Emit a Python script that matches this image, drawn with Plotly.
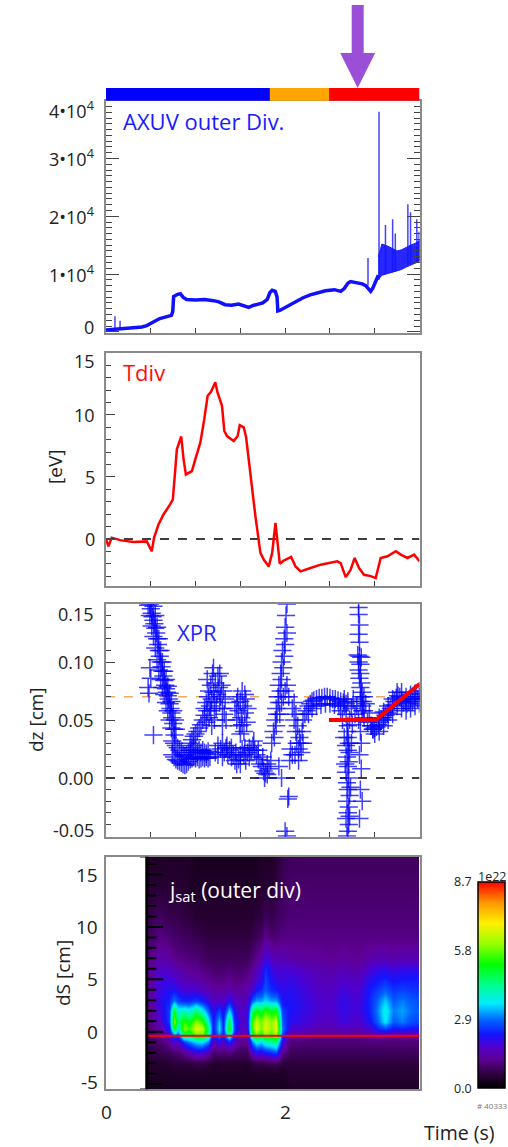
import plotly.graph_objects as go

# ---------------- data ----------------
# Panel 1 : AXUV outer divertor
axuv_t = [0.0, 0.1, 0.2, 0.3, 0.40, 0.455, 0.50, 0.55, 0.60, 0.65, 0.70, 0.73, 0.745, 0.755, 0.80, 0.83,
          0.86, 0.9, 1.0, 1.1, 1.2, 1.26, 1.33, 1.40, 1.48, 1.55, 1.593, 1.65, 1.705, 1.75, 1.80, 1.83,
          1.855, 1.89, 1.91, 1.918, 1.94, 2.0, 2.1, 2.2, 2.28, 2.35, 2.45, 2.55, 2.62, 2.66, 2.70, 2.73,
          2.8, 2.86, 2.90, 2.955, 2.98, 3.011, 3.04]
axuv_v = [300, 400, 500, 650, 850, 1080, 1500, 2000, 2300, 2500, 2700, 2850, 3500, 6100, 6500, 6600,
          6000, 5600, 5500, 5600, 5400, 5200, 4700, 4600, 4800, 4400, 4230, 4600, 4800, 5000, 5600, 6800,
          7200, 7000, 6000, 3600, 3700, 4200, 5200, 5900, 6400, 6700, 7100, 7300, 7000, 7500, 8400, 8700,
          8500, 8300, 8000, 7000, 7600, 8970, 9800]
axuv_band_t = [3.04, 3.08, 3.15, 3.2, 3.25, 3.3, 3.35, 3.4, 3.45, 3.5]
axuv_band_lo = [9000, 9800, 10100, 10300, 10500, 10800, 11200, 11500, 11800, 12200]
axuv_band_hi = [13000, 15200, 14800, 14400, 14000, 14200, 14600, 15000, 15300, 15800]
axuv_spike_t = [0.10, 0.157, 2.925, 3.048, 3.12, 3.2, 3.23, 3.37, 3.40, 3.47, 3.495]
axuv_spike_top = [2700, 1900, 12800, 38100, 18500, 19500, 17000, 22100, 20700, 19500, 17300]
axuv_spike_base = [400, 450, 8000, 9000, 10000, 10300, 10400, 11500, 11700, 12000, 12200]
axuv_ticks = [0, 10000, 20000, 30000, 40000]
axuv_ticktext = ["0", "1•10<sup>4</sup>", "2•10<sup>4</sup>", "3•10<sup>4</sup>", "4•10<sup>4</sup>"]

phase_edges = [0.0, 1.83, 2.49, 3.5]
phase_colors = ["#0000ff", "#ffa500", "#ff0000"]
arrow_t = 2.81

# Panel 2 : Tdiv
tdiv_t = [0.0, 0.027, 0.064, 0.157, 0.306, 0.455, 0.511, 0.537, 0.586, 0.642, 0.716, 0.746, 0.772, 0.791,
          0.84, 0.866, 0.892, 0.959, 0.997, 1.053, 1.097, 1.135, 1.172, 1.22, 1.246, 1.295, 1.321, 1.351,
          1.426, 1.47, 1.493, 1.538, 1.564, 1.612, 1.668, 1.724, 1.761, 1.817, 1.855, 1.892, 1.918, 1.94,
          1.985, 2.067, 2.116, 2.172, 2.284, 2.396, 2.582, 2.62, 2.676, 2.73, 2.776, 2.825, 2.881, 2.955,
          3.011, 3.067, 3.142, 3.235, 3.291, 3.366, 3.44, 3.5]
tdiv_v = [0.0, -0.6, 0.1, -0.1, -0.25, -0.2, -1.0, 0.1, 1.16, 1.97, 2.78, 3.18, 5.47, 7.23,
          8.26, 6.42, 5.2, 5.47, 6.42, 7.77, 9.66, 11.55, 11.87, 12.63, 11.8, 10.74, 8.71, 8.3,
          7.9, 8.3, 9.17, 9.0, 8.2, 5.07, 1.83, -1.13, -1.67, -2.22, -1.13, 1.3, -0.3, -2.0,
          -1.75, -1.46, -2.22, -2.62, -2.35, -2.08, -1.81, -1.95, -3.08, -2.5, -1.54, -2.35, -2.9, -3.0,
          -3.16, -1.54, -1.4, -1.0, -1.27, -1.54, -1.27, -1.81]
tdiv_ticks = [0, 5, 10, 15]

# Panel 3 : XPR position (t, dz)
xpr_drop = [(0.49, 0.150), (0.50, 0.146), (0.51, 0.142), (0.52, 0.139), (0.53, 0.136), (0.54, 0.133),
            (0.55, 0.129), (0.56, 0.125), (0.57, 0.120), (0.58, 0.115), (0.59, 0.110), (0.60, 0.105),
            (0.61, 0.100), (0.62, 0.096), (0.63, 0.092), (0.64, 0.088), (0.65, 0.084), (0.66, 0.080),
            (0.67, 0.077), (0.68, 0.074), (0.69, 0.071), (0.70, 0.068), (0.71, 0.064), (0.72, 0.060),
            (0.73, 0.056), (0.74, 0.052), (0.75, 0.047), (0.76, 0.042), (0.765, 0.037),
            (0.47, 0.149), (0.49, 0.140), (0.51, 0.131), (0.53, 0.122), (0.55, 0.112), (0.57, 0.102),
            (0.59, 0.093), (0.61, 0.085), (0.63, 0.078), (0.65, 0.072), (0.67, 0.065), (0.69, 0.058),
            (0.71, 0.050), (0.73, 0.043),
            (0.53, 0.148), (0.55, 0.140), (0.57, 0.130), (0.59, 0.120), (0.61, 0.110), (0.63, 0.100),
            (0.65, 0.092), (0.67, 0.085), (0.69, 0.079), (0.71, 0.073), (0.73, 0.066), (0.75, 0.058),
            (0.77, 0.050), (0.78, 0.042),
            (0.47, 0.078), (0.48, 0.073), (0.49, 0.095), (0.50, 0.086), (0.53, 0.037)]
xpr_low1 = [(0.74, 0.020), (0.76, 0.018), (0.78, 0.016), (0.80, 0.015), (0.82, 0.014), (0.84, 0.013),
            (0.86, 0.012), (0.88, 0.011), (0.90, 0.012), (0.92, 0.014), (0.94, 0.016), (0.96, 0.017),
            (0.98, 0.018), (1.00, 0.017), (1.02, 0.018), (1.04, 0.016), (1.06, 0.017), (1.08, 0.018),
            (1.10, 0.017), (1.12, 0.018), (1.14, 0.017), (1.16, 0.018),
            (0.74, 0.032), (0.76, 0.030), (0.78, 0.028), (0.80, 0.026), (0.82, 0.024), (0.84, 0.022),
            (0.86, 0.020), (0.88, 0.019), (0.90, 0.020), (0.92, 0.022), (0.94, 0.024), (0.96, 0.026),
            (0.98, 0.028), (1.00, 0.024), (1.02, 0.022), (1.04, 0.024), (1.06, 0.022), (1.08, 0.024),
            (1.10, 0.022), (1.12, 0.021), (1.14, 0.023),
            (0.94, 0.030), (0.96, 0.033), (0.98, 0.036), (1.00, 0.038), (1.02, 0.040), (1.04, 0.043),
            (1.06, 0.046), (1.08, 0.050), (1.10, 0.054)]
xpr_bump1 = [(1.10, 0.060), (1.12, 0.065), (1.13, 0.058), (1.14, 0.070), (1.15, 0.075), (1.16, 0.062),
             (1.17, 0.080), (1.18, 0.068), (1.19, 0.090), (1.20, 0.074), (1.21, 0.066), (1.22, 0.082),
             (1.23, 0.060), (1.24, 0.072), (1.25, 0.088), (1.26, 0.078), (1.27, 0.065), (1.28, 0.070),
             (1.29, 0.080), (1.30, 0.060), (1.31, 0.075), (1.32, 0.055), (1.33, 0.068), (1.34, 0.050),
             (1.12, 0.048), (1.15, 0.052), (1.18, 0.045), (1.21, 0.050), (1.13, 0.085), (1.20, 0.095),
             (1.27, 0.090), (1.30, 0.045), (1.17, 0.058)]
xpr_low2 = [(1.22, 0.022), (1.25, 0.020), (1.28, 0.025), (1.30, 0.018), (1.32, 0.022), (1.34, 0.026),
            (1.36, 0.020), (1.38, 0.024), (1.40, 0.018), (1.42, 0.020), (1.44, 0.015), (1.46, 0.012),
            (1.48, 0.016), (1.50, 0.020), (1.52, 0.025), (1.54, 0.020), (1.56, 0.015), (1.58, 0.022),
            (1.60, 0.026), (1.62, 0.024), (1.64, 0.028), (1.66, 0.024), (1.68, 0.020), (1.70, 0.016),
            (1.72, 0.012), (1.74, 0.010), (1.76, 0.006), (1.78, 0.004), (1.80, 0.003), (1.82, 0.008),
            (1.84, 0.015), (1.25, 0.028), (1.30, 0.030), (1.35, 0.028), (1.40, 0.026), (1.45, 0.022),
            (1.50, 0.012), (1.55, 0.026), (1.60, 0.018), (1.65, 0.032), (1.70, 0.024), (1.75, 0.018),
            (1.80, 0.012), (1.77, 0.000)]
xpr_bump2 = [(1.44, 0.060), (1.46, 0.050), (1.47, 0.070), (1.48, 0.058), (1.49, 0.045), (1.50, 0.066),
             (1.51, 0.052), (1.52, 0.075), (1.53, 0.062), (1.54, 0.040), (1.55, 0.056), (1.56, 0.068),
             (1.57, 0.048), (1.58, 0.060), (1.50, 0.038), (1.46, 0.065), (1.55, 0.072), (1.52, 0.046)]
xpr_rise = [(1.85, 0.030), (1.87, 0.040), (1.89, 0.050), (1.90, 0.060), (1.92, 0.070), (1.93, 0.080),
            (1.95, 0.090), (1.96, 0.100), (1.97, 0.110), (1.99, 0.120), (2.00, 0.130), (2.01, 0.140),
            (2.02, 0.150), (1.88, 0.035), (1.90, 0.045), (1.91, 0.055), (1.93, 0.065), (1.95, 0.075),
            (1.96, 0.085), (1.98, 0.095), (1.99, 0.105), (2.00, 0.115), (2.02, 0.125),
            (1.94, 0.055), (1.96, 0.065), (1.98, 0.070), (2.00, 0.075), (2.02, 0.080), (2.04, 0.070),
            (2.03, -0.018), (2.00, -0.046), (2.02, -0.050), (1.96, 0.000), (1.93, 0.010), (2.05, 0.015),
            (2.08, 0.020), (2.06, 0.025), (2.04, -0.016)]
xpr_plateau = [(2.08, 0.060), (2.10, 0.050), (2.12, 0.040), (2.13, 0.030), (2.15, 0.025), (2.17, 0.030),
               (2.19, 0.040), (2.20, 0.050), (2.22, 0.055), (2.10, 0.065), (2.12, 0.055), (2.14, 0.045),
               (2.16, 0.035), (2.18, 0.022), (2.15, 0.015), (2.20, 0.030), (2.11, 0.020),
               (2.24, 0.058), (2.26, 0.062), (2.28, 0.064), (2.30, 0.066), (2.32, 0.067), (2.35, 0.068),
               (2.38, 0.069), (2.41, 0.069), (2.44, 0.070), (2.47, 0.070), (2.50, 0.069), (2.53, 0.068),
               (2.56, 0.068), (2.59, 0.067), (2.62, 0.066), (2.65, 0.065), (2.68, 0.064),
               (2.26, 0.055), (2.30, 0.060), (2.35, 0.062), (2.40, 0.063), (2.45, 0.064), (2.50, 0.064),
               (2.55, 0.063), (2.60, 0.062)]
xpr_scatter = [(2.62, 0.058), (2.64, 0.050), (2.66, 0.062), (2.68, 0.055), (2.70, 0.066), (2.72, 0.050),
               (2.74, 0.060), (2.76, 0.068), (2.78, 0.055), (2.80, 0.062), (2.82, 0.050), (2.84, 0.066),
               (2.86, 0.058), (2.88, 0.052), (2.90, 0.064), (2.92, 0.048), (2.94, 0.056), (2.96, 0.045),
               (2.98, 0.042), (2.70, 0.045), (2.75, 0.046), (2.66, 0.068), (2.88, 0.070),
               (2.69, 0.040), (2.70, 0.035), (2.71, 0.030), (2.68, 0.028), (2.70, 0.024), (2.72, 0.022),
               (2.69, 0.018), (2.71, 0.014), (2.70, 0.010), (2.68, 0.005), (2.71, 0.000), (2.69, -0.004),
               (2.70, -0.010), (2.72, -0.015), (2.69, -0.020), (2.71, -0.025), (2.70, -0.030),
               (2.68, -0.035), (2.71, -0.040), (2.70, -0.046), (2.69, -0.050), (2.73, -0.008),
               (2.67, 0.012), (2.74, 0.030), (2.66, 0.035), (2.72, -0.033)]
xpr_spike = [(2.82, 0.147), (2.82, 0.141), (2.83, 0.132), (2.82, 0.124), (2.83, 0.117), (2.81, 0.106),
             (2.83, 0.105), (2.85, 0.104), (2.82, 0.100), (2.84, 0.098), (2.82, 0.093), (2.84, 0.090),
             (2.83, 0.086), (2.85, 0.082), (2.84, 0.078), (2.86, 0.074), (2.85, 0.070), (2.87, 0.066),
             (2.86, 0.062), (2.88, 0.058), (2.84, 0.040), (2.85, 0.030), (2.83, 0.020), (2.85, 0.008),
             (2.84, -0.010), (2.86, -0.020), (2.83, -0.035)]
xpr_late = [(2.96, 0.045), (2.98, 0.042), (3.00, 0.043), (3.02, 0.044), (3.04, 0.046), (3.06, 0.048),
            (3.08, 0.050), (3.10, 0.052), (3.12, 0.054), (3.14, 0.056), (3.16, 0.058), (3.18, 0.060),
            (3.20, 0.063), (3.22, 0.066), (3.24, 0.069), (3.26, 0.071), (3.28, 0.070), (3.30, 0.067),
            (3.32, 0.065), (3.34, 0.066), (3.36, 0.064), (3.38, 0.066), (3.40, 0.068), (3.42, 0.066),
            (3.44, 0.068), (3.46, 0.070), (3.48, 0.068), (3.50, 0.070),
            (3.00, 0.038), (3.05, 0.040), (3.10, 0.045), (3.15, 0.050), (3.20, 0.055), (3.25, 0.062),
            (3.30, 0.060), (3.35, 0.058), (3.40, 0.060), (3.45, 0.062), (3.50, 0.064),
            (3.05, 0.052), (3.10, 0.057), (3.15, 0.062), (3.20, 0.068), (3.25, 0.074), (3.30, 0.074),
            (3.35, 0.070), (3.40, 0.072), (3.45, 0.073), (3.50, 0.075)]
xpr_fit_t = [2.49, 3.01, 3.5]
xpr_fit_dz = [0.050, 0.050, 0.081]
xpr_ref_dz = 0.07
xpr_ticks = [-0.05, 0.0, 0.05, 0.10, 0.15]
xpr_ticktext = ["-0.05", "0.00", "0.05", "0.10", "0.15"]

# Panel 4 : jsat (outer div), 1e22 units
jsat_t = [0.42, 0.50, 0.55, 0.62, 0.70, 0.76, 0.80, 0.87, 0.93, 1.0, 1.07, 1.14, 1.2, 1.26, 1.31, 1.37, 1.43,
          1.5, 1.57, 1.63, 1.68, 1.73, 1.78, 1.84, 1.9, 1.96, 2.05, 2.2, 2.35, 2.5, 2.65, 2.8, 2.95, 3.05,
          3.12, 3.2, 3.3, 3.4, 3.5]
jsat_ds = [-5.5, -4, -3, -2, -1, -0.4, 0.3, 1, 2, 3, 4, 5, 6, 7, 9, 11, 14, 16.7]
jsat_cols = [
    [0.3, 0.4, 0.5, 0.6, 0.8, 0.9, 1.0, 1.1, 1.2, 1.3, 1.3, 1.3, 1.2, 1.1, 0.9, 0.7, 0.5, 0.4],
    [0.3, 0.4, 0.5, 0.6, 0.8, 0.9, 1.0, 1.1, 1.2, 1.3, 1.3, 1.3, 1.2, 1.1, 0.9, 0.7, 0.5, 0.4],
    [0.3, 0.4, 0.5, 0.7, 0.9, 1.0, 1.2, 1.4, 1.6, 1.7, 1.7, 1.6, 1.5, 1.3, 1.0, 0.8, 0.5, 0.4],
    [0.3, 0.4, 0.5, 0.7, 1.0, 1.2, 1.5, 1.8, 2.0, 2.1, 2.0, 1.9, 1.7, 1.4, 1.1, 0.8, 0.5, 0.4],
    [0.3, 0.4, 0.5, 0.8, 1.3, 1.7, 2.2, 2.6, 2.6, 2.4, 2.1, 1.9, 1.6, 1.3, 1.0, 0.7, 0.5, 0.4],
    [0.3, 0.4, 0.6, 0.9, 1.8, 2.8, 5.0, 6.0, 5.0, 3.0, 2.2, 1.8, 1.5, 1.2, 0.9, 0.7, 0.5, 0.4],
    [0.3, 0.4, 0.6, 0.9, 1.6, 2.5, 3.8, 4.5, 3.8, 2.6, 2.0, 1.7, 1.4, 1.1, 0.9, 0.7, 0.5, 0.4],
    [0.3, 0.4, 0.6, 1.2, 2.6, 4.5, 6.0, 5.5, 4.0, 2.4, 1.8, 1.5, 1.3, 1.1, 0.8, 0.6, 0.5, 0.4],
    [0.3, 0.4, 0.6, 1.5, 3.0, 4.5, 5.5, 5.0, 3.8, 2.4, 1.8, 1.5, 1.2, 1.0, 0.8, 0.6, 0.4, 0.4],
    [0.3, 0.4, 0.7, 1.8, 3.5, 5.5, 6.8, 6.0, 4.5, 2.6, 1.8, 1.4, 1.2, 1.0, 0.7, 0.5, 0.4, 0.3],
    [0.3, 0.4, 0.7, 1.8, 3.6, 5.5, 6.5, 5.5, 3.8, 2.3, 1.6, 1.3, 1.1, 0.9, 0.7, 0.5, 0.4, 0.3],
    [0.3, 0.4, 0.6, 1.5, 3.0, 4.2, 4.5, 3.8, 2.8, 2.0, 1.5, 1.2, 1.0, 0.8, 0.6, 0.5, 0.4, 0.3],
    [0.3, 0.4, 0.5, 0.9, 1.5, 2.0, 2.2, 2.2, 2.0, 1.6, 1.3, 1.1, 0.9, 0.8, 0.6, 0.5, 0.4, 0.3],
    [0.3, 0.4, 0.5, 1.0, 2.0, 3.0, 3.6, 3.4, 2.6, 1.8, 1.3, 1.1, 0.9, 0.8, 0.6, 0.5, 0.4, 0.3],
    [0.3, 0.4, 0.5, 0.9, 1.6, 2.2, 2.4, 2.3, 2.0, 1.6, 1.3, 1.1, 0.9, 0.8, 0.6, 0.5, 0.4, 0.3],
    [0.3, 0.4, 0.5, 1.0, 2.4, 4.0, 5.5, 5.0, 3.5, 2.2, 1.5, 1.2, 1.0, 0.8, 0.6, 0.5, 0.4, 0.3],
    [0.3, 0.4, 0.5, 0.9, 1.6, 2.2, 2.6, 2.5, 2.2, 1.7, 1.3, 1.1, 0.9, 0.8, 0.6, 0.5, 0.4, 0.3],
    [0.3, 0.4, 0.5, 0.8, 1.2, 1.5, 1.7, 1.8, 1.7, 1.5, 1.3, 1.1, 0.9, 0.8, 0.6, 0.5, 0.4, 0.3],
    [0.3, 0.4, 0.5, 0.8, 1.2, 1.5, 1.7, 1.8, 1.8, 1.6, 1.4, 1.2, 1.0, 0.8, 0.6, 0.5, 0.4, 0.3],
    [0.3, 0.4, 0.6, 1.6, 3.0, 4.5, 5.5, 5.5, 4.5, 2.8, 1.8, 1.4, 1.2, 1.0, 0.7, 0.5, 0.4, 0.3],
    [0.3, 0.4, 0.7, 2.0, 3.8, 5.5, 6.8, 6.5, 5.2, 3.2, 2.2, 1.8, 1.5, 1.2, 0.8, 0.6, 0.4, 0.3],
    [0.3, 0.4, 0.7, 2.0, 3.5, 5.0, 5.8, 5.8, 4.8, 3.2, 2.4, 2.0, 1.8, 1.4, 0.9, 0.6, 0.5, 0.4],
    [0.3, 0.4, 0.7, 2.2, 4.0, 5.8, 6.8, 6.6, 5.5, 3.5, 2.8, 2.6, 2.4, 2.0, 1.2, 0.8, 0.5, 0.4],
    [0.3, 0.4, 0.8, 2.4, 4.2, 5.5, 6.0, 6.0, 5.0, 3.2, 2.4, 2.2, 2.0, 1.6, 1.0, 0.7, 0.5, 0.4],
    [0.3, 0.4, 0.8, 2.6, 4.5, 6.0, 6.8, 6.5, 5.2, 3.2, 2.3, 2.0, 1.8, 1.5, 1.0, 0.8, 0.6, 0.5],
    [0.3, 0.4, 0.6, 1.2, 2.0, 2.6, 3.0, 2.8, 2.6, 2.2, 2.0, 1.9, 1.8, 1.5, 1.1, 0.9, 0.8, 0.7],
    [0.4, 0.5, 0.6, 0.8, 1.0, 1.3, 1.8, 2.1, 2.2, 2.2, 2.1, 2.0, 1.8, 1.4, 1.1, 1.0, 0.9, 0.8],
    [0.4, 0.5, 0.6, 0.8, 1.0, 1.3, 1.7, 1.9, 2.0, 2.0, 1.9, 1.8, 1.6, 1.3, 1.1, 1.0, 0.9, 0.8],
    [0.4, 0.5, 0.6, 0.8, 1.0, 1.2, 1.5, 1.7, 1.8, 1.8, 1.7, 1.6, 1.5, 1.3, 1.1, 1.0, 0.9, 0.8],
    [0.4, 0.5, 0.6, 0.8, 1.0, 1.2, 1.4, 1.6, 1.7, 1.7, 1.6, 1.5, 1.4, 1.2, 1.1, 1.0, 0.9, 0.8],
    [0.4, 0.5, 0.6, 0.8, 1.0, 1.2, 1.6, 1.9, 2.0, 2.0, 1.9, 1.7, 1.5, 1.3, 1.1, 1.0, 0.9, 0.8],
    [0.4, 0.5, 0.6, 0.8, 1.0, 1.2, 1.5, 1.7, 1.8, 1.8, 1.7, 1.6, 1.4, 1.2, 1.1, 1.0, 0.9, 0.8],
    [0.4, 0.5, 0.6, 0.8, 1.0, 1.3, 1.8, 2.2, 2.4, 2.4, 2.3, 2.1, 1.8, 1.4, 1.1, 1.0, 0.9, 0.8],
    [0.4, 0.5, 0.6, 0.8, 1.0, 1.4, 2.4, 3.0, 3.2, 3.0, 2.6, 2.3, 2.0, 1.5, 1.1, 1.0, 0.9, 0.8],
    [0.4, 0.5, 0.6, 0.8, 1.0, 1.4, 2.6, 3.6, 3.8, 3.4, 2.8, 2.4, 2.0, 1.5, 1.1, 1.0, 0.9, 0.8],
    [0.4, 0.5, 0.6, 0.8, 1.0, 1.3, 2.2, 2.8, 3.0, 2.8, 2.5, 2.2, 1.9, 1.4, 1.1, 1.0, 0.9, 0.8],
    [0.4, 0.5, 0.6, 0.8, 1.0, 1.3, 2.3, 3.0, 3.2, 3.0, 2.6, 2.3, 2.0, 1.5, 1.1, 1.0, 0.9, 0.8],
    [0.4, 0.5, 0.6, 0.8, 1.0, 1.3, 2.2, 2.7, 2.9, 2.8, 2.5, 2.3, 2.0, 1.5, 1.1, 1.0, 0.9, 0.8],
    [0.4, 0.5, 0.6, 0.8, 1.0, 1.3, 2.2, 2.6, 2.8, 2.7, 2.5, 2.3, 2.0, 1.5, 1.1, 1.0, 0.9, 0.8],
]
jsat_sep_ds = -0.4
jsat_start_t = 0.455
jsat_max = 8.7
jsat_ticks = [-5, 0, 5, 10, 15]
time_ticks = [0, 2]
colorbar_labels = ["8.7", "5.8", "2.9", "0.0"]
colorbar_values = [8.7, 5.8, 2.9, 0.0]

# ---------------- layout helpers ----------------
W, H = 508, 1147
def px_x(p): return p / W
def px_y(p): return 1 - p / H

XD = [px_x(106), px_x(419.5)]
Y1 = [px_y(333), px_y(100.7)]
Y2 = [px_y(586), px_y(353)]
Y3 = [px_y(836.7), px_y(604)]
Y4 = [px_y(1089.3), px_y(856.7)]

FONT = "Open Sans"
FRAME = "#8a8a8a"
TICKC = "#444444"
TXT = "#222222"

fig = go.Figure()

# ---- panel 1
fig.add_trace(go.Scatter(x=axuv_t, y=axuv_v, mode="lines", line=dict(color="#1010ff", width=3.5),
                         xaxis="x", yaxis="y", showlegend=False, hoverinfo="skip"))
band_x = axuv_band_t + axuv_band_t[::-1]
band_y = axuv_band_lo + axuv_band_hi[::-1]
fig.add_trace(go.Scatter(x=band_x, y=band_y, mode="lines", fill="toself", fillcolor="rgba(16,16,255,0.9)",
                         line=dict(color="rgba(16,16,255,0.9)", width=1), xaxis="x", yaxis="y",
                         showlegend=False, hoverinfo="skip"))
sx, sy = [], []
for t, b, top in zip(axuv_spike_t, axuv_spike_base, axuv_spike_top):
    sx += [t, t, None]
    sy += [b, top, None]
fig.add_trace(go.Scatter(x=sx, y=sy, mode="lines", line=dict(color="rgba(20,20,255,0.8)", width=1.5),
                         xaxis="x", yaxis="y", showlegend=False, hoverinfo="skip"))

# ---- panel 2
fig.add_trace(go.Scatter(x=[0, 3.5], y=[0, 0], mode="lines", line=dict(color="black", width=1.5, dash="dash"),
                         xaxis="x2", yaxis="y2", showlegend=False, hoverinfo="skip"))
fig.add_trace(go.Scatter(x=tdiv_t, y=tdiv_v, mode="lines", line=dict(color="#ff0000", width=2.5),
                         xaxis="x2", yaxis="y2", showlegend=False, hoverinfo="skip"))

# ---- panel 3
fig.add_trace(go.Scatter(x=[0, 3.5], y=[0, 0], mode="lines", line=dict(color="black", width=1.5, dash="dash"),
                         xaxis="x3", yaxis="y3", showlegend=False, hoverinfo="skip"))
fig.add_trace(go.Scatter(x=[0, 3.5], y=[xpr_ref_dz, xpr_ref_dz], mode="lines",
                         line=dict(color="#f0a860", width=1.5, dash="dash"),
                         xaxis="x3", yaxis="y3", showlegend=False, hoverinfo="skip"))
xpr_all = xpr_drop + xpr_low1 + xpr_bump1 + xpr_low2 + xpr_bump2 + xpr_rise + xpr_plateau + xpr_scatter + xpr_spike + xpr_late
fig.add_trace(go.Scatter(x=[p[0] for p in xpr_all], y=[p[1] for p in xpr_all], mode="markers",
                         marker=dict(symbol="cross-thin", size=13, line=dict(color="rgba(0,0,255,0.75)", width=1.5)),
                         xaxis="x3", yaxis="y3", showlegend=False, hoverinfo="skip", cliponaxis=True))
fig.add_trace(go.Scatter(x=xpr_fit_t, y=xpr_fit_dz, mode="lines", line=dict(color="#ff0000", width=4),
                         xaxis="x3", yaxis="y3", showlegend=False, hoverinfo="skip"))

# ---- panel 4
rainbow = [[0.0, "rgb(0,0,0)"], [0.06, "rgb(40,0,52)"], [0.14, "rgb(95,0,150)"], [0.2, "rgb(80,0,205)"],
           [0.26, "rgb(20,20,255)"], [0.33, "rgb(0,100,255)"], [0.41, "rgb(0,235,255)"],
           [0.5, "rgb(0,255,140)"], [0.6, "rgb(0,255,0)"], [0.7, "rgb(150,255,0)"],
           [0.8, "rgb(255,240,0)"], [0.9, "rgb(255,150,0)"], [1.0, "rgb(255,0,0)"]]
fig.add_trace(go.Heatmap(x=jsat_t, y=jsat_ds, z=jsat_cols, transpose=True, zsmooth="best",
                         colorscale=rainbow, zmin=0, zmax=jsat_max, xaxis="x4", yaxis="y4",
                         hoverinfo="skip",
                         colorbar=dict(x=px_x(478), xanchor="left", xpad=0, ypad=0, thickness=27,
                                       thicknessmode="pixels", len=(1088 - 881.7) / H, lenmode="fraction",
                                       y=px_y(984.85), yanchor="middle", outlinecolor="black", outlinewidth=1.5,
                                       showticklabels=False, ticks="")))
fig.add_trace(go.Scatter(x=[jsat_start_t, 3.5], y=[jsat_sep_ds, jsat_sep_ds], mode="lines",
                         line=dict(color="#ff0000", width=2), xaxis="x4", yaxis="y4",
                         showlegend=False, hoverinfo="skip"))
minor_ds = [v for v in range(-5, 17) if v % 5 != 0]
fig.add_trace(go.Scatter(x=[jsat_start_t + 0.045] * len(minor_ds), y=minor_ds, mode="markers",
                         marker=dict(symbol="line-ew", size=8, line=dict(color="black", width=2)),
                         xaxis="x4", yaxis="y4", showlegend=False, hoverinfo="skip"))
fig.add_trace(go.Scatter(x=[jsat_start_t + 0.075] * len(jsat_ticks), y=jsat_ticks, mode="markers",
                         marker=dict(symbol="line-ew", size=14, line=dict(color="black", width=2)),
                         xaxis="x4", yaxis="y4", showlegend=False, hoverinfo="skip"))

# ---------------- axes ----------------
def xaxis(domain, anchor):
    return dict(domain=domain, anchor=anchor, range=[0, 3.5], showgrid=False, zeroline=False, showline=True,
                linecolor=FRAME, linewidth=1.5, mirror=True, ticks="inside", ticklen=5, tickcolor=TICKC,
                tickvals=[0, 0.5, 1, 1.5, 2, 2.5, 3, 3.5], showticklabels=False)

lay = dict(width=W, height=H, margin=dict(l=0, r=0, t=0, b=0, autoexpand=False),
           paper_bgcolor="white", plot_bgcolor="white", showlegend=False)
lay["xaxis"] = xaxis(XD, "y")
lay["xaxis2"] = xaxis(XD, "y2")
lay["xaxis3"] = xaxis(XD, "y3")
x4 = xaxis(XD, "y4")
x4.update(ticks="")
lay["xaxis4"] = x4

lay["yaxis"] = dict(domain=Y1, anchor="x", range=[-200, 40000], showgrid=False, zeroline=False, showline=True,
                    linecolor=FRAME, linewidth=1.5, mirror="allticks", ticks="inside", ticklen=13, tickcolor=TICKC,
                    tickvals=axuv_ticks, showticklabels=False,
                    minor=dict(ticks="inside", ticklen=6, dtick=1000, tickcolor=TICKC, showgrid=False))
lay["yaxis2"] = dict(domain=Y2, anchor="x2", range=[-3.8, 15], showgrid=False, zeroline=False, showline=True,
                     linecolor=FRAME, linewidth=1.5, mirror=True, ticks="inside", ticklen=9, tickcolor=TICKC,
                     tickvals=tdiv_ticks, showticklabels=False,
                     minor=dict(ticks="inside", ticklen=5, dtick=1, tickcolor=TICKC, showgrid=False))
lay["yaxis3"] = dict(domain=Y3, anchor="x3", range=[-0.0506, 0.15], showgrid=False, zeroline=False, showline=True,
                     linecolor=FRAME, linewidth=1.5, mirror=True, ticks="inside", ticklen=9, tickcolor=TICKC,
                     tickvals=xpr_ticks, showticklabels=False,
                     minor=dict(ticks="inside", ticklen=5, dtick=0.01, tickcolor=TICKC, showgrid=False))
lay["yaxis4"] = dict(domain=Y4, anchor="x4", range=[-5.5, 16.7], showgrid=False, zeroline=False, showline=True,
                     linecolor=FRAME, linewidth=1.5, mirror=True, ticks="", showticklabels=False)

# ---------------- shapes ----------------
shapes = []
for i, c in enumerate(phase_colors):
    shapes.append(dict(type="rect", xref="x", yref="paper", x0=phase_edges[i], x1=phase_edges[i + 1],
                       y0=px_y(100.7), y1=px_y(88), fillcolor=c, line=dict(width=0), layer="above"))
sw, hw = 0.067, 0.195
ys, yb, yt = px_y(5), px_y(53), px_y(88)
path = (f"M {arrow_t - sw},{ys} L {arrow_t + sw},{ys} L {arrow_t + sw},{yb} L {arrow_t + hw},{yb} "
        f"L {arrow_t},{yt} L {arrow_t - hw},{yb} L {arrow_t - sw},{yb} Z")
shapes.append(dict(type="path", xref="x", yref="paper", path=path, fillcolor="#9b4fd6", line=dict(width=0)))
shapes.append(dict(type="rect", xref="x4", yref="y4 domain", x0=0.012, x1=jsat_start_t, y0=0.003, y1=0.997,
                   fillcolor="white", line=dict(width=0), layer="above"))
shapes.append(dict(type="line", xref="x4", yref="y4 domain", x0=jsat_start_t, x1=jsat_start_t, y0=0, y1=1,
                   line=dict(color="black", width=3), layer="above"))
lay["shapes"] = shapes

# ---------------- annotations ----------------
ann = []
def txt(text, x, y, size, color, xanchor="left", yanchor="middle", angle=0):
    ann.append(dict(text=text, x=x, y=y, xref="paper", yref="paper", xanchor=xanchor, yanchor=yanchor,
                    showarrow=False, textangle=angle, font=dict(family=FONT, size=size, color=color)))

# y tick labels (IDL-style: end labels nudged inside the frame)
def tick_px(v, lo, hi, top_px, bot_px):
    return bot_px - (v - lo) / (hi - lo) * (bot_px - top_px)

for v, lab in zip(axuv_ticks, axuv_ticktext):
    yp = min(max(tick_px(v, -200, 40000, 100.7, 333), 110), 327)
    txt(lab, px_x(96), px_y(yp), 18, TXT, "right", "middle")
for v in tdiv_ticks:
    yp = min(max(tick_px(v, -3.8, 15, 353, 586), 361), 578)
    txt(str(v), px_x(97), px_y(yp), 18, TXT, "right", "middle")
for v, lab in zip(xpr_ticks, xpr_ticktext):
    yp = min(max(tick_px(v, -0.0506, 0.15, 604, 836.7), 614), 830)
    txt(lab, px_x(96), px_y(yp), 18, TXT, "right", "middle")
for v in jsat_ticks:
    yp = min(max(tick_px(v, -5.5, 16.7, 856.7, 1089.3), 866), 1082)
    txt(str(v), px_x(100), px_y(yp), 19, TXT, "right", "middle")
for v in time_ticks:
    xp = 106 + v / 3.5 * (419.5 - 106)
    txt(str(v), px_x(xp), px_y(1111.5), 19, TXT, "center", "middle")

txt("AXUV outer Div.", px_x(121), px_y(120.7), 22, "#1a1aff")
txt("Tdiv", px_x(121), px_y(371.7), 22, "#ff1010")
txt("XPR", px_x(175), px_y(631.7), 22, "#2424ff")
txt("j<sub>sat</sub> (outer div)", px_x(166), px_y(891), 21, "white")
txt("[eV]", px_x(55), px_y(467), 19, TXT, "center", "middle", -90)
txt("dz [cm]", px_x(36), px_y(720), 19, TXT, "center", "middle", -90)
txt("dS [cm]", px_x(63), px_y(973), 19, TXT, "center", "middle", -90)
txt("Time (s)", px_x(459), px_y(1132), 19.5, TXT, "center", "middle")
for lab, v in zip(colorbar_labels, colorbar_values):
    ypix = 1088 - (v / jsat_max) * (1088 - 881.7)
    txt(lab, px_x(463), px_y(ypix), 12.5, TXT, "center", "middle")
txt("1e22", px_x(492), px_y(876), 12.5, TXT, "center", "middle")
txt("# 40333", px_x(492), px_y(1105), 8, "#777777", "center", "middle")
lay["annotations"] = ann

fig.update_layout(**lay)
fig.write_html("out.html")
